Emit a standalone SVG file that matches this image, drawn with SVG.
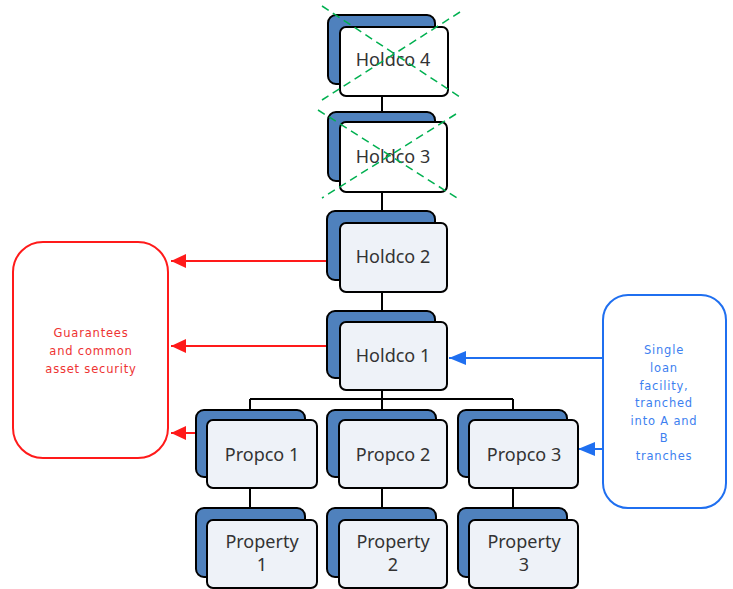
<svg xmlns="http://www.w3.org/2000/svg" width="733" height="589" viewBox="0 0 733 589">
<defs>
<style>
.back{fill:#4f81bd;stroke:#000;stroke-width:2}
.front{fill:#eef2f8;stroke:#000;stroke-width:2}
.front.w{fill:#fff}
.lbl{font-family:"Noto Sans","Open Sans",sans-serif;font-size:18px;fill:#333;text-anchor:middle}
.conn{stroke:#000;stroke-width:2;fill:none}
.red{stroke:#ff1a1a;stroke-width:2;fill:none}
.blue{stroke:#1f6ff0;stroke-width:2;fill:none}
.x{stroke:#00b050;stroke-width:1.5;stroke-dasharray:8 5;fill:none}
.rt{font-family:"DejaVu Sans",Verdana,sans-serif;font-size:11.5px;letter-spacing:0.8px;fill:#ee3333;text-anchor:middle}
.bt{font-family:"DejaVu Sans",Verdana,sans-serif;font-size:11.5px;letter-spacing:0.8px;fill:#3d7ff0;text-anchor:middle}
</style>
<marker id="ar" markerWidth="16" markerHeight="14" refX="15" refY="7" orient="auto" markerUnits="userSpaceOnUse">
<path d="M0,0 L15,7 L0,14 Z" fill="#ff1a1a"/>
</marker>
<marker id="ab" markerWidth="18" markerHeight="14" refX="17" refY="7" orient="auto" markerUnits="userSpaceOnUse">
<path d="M0,0 L17,7 L0,14 Z" fill="#1f6ff0"/>
</marker>
</defs>
<rect width="733" height="589" fill="#fff"/>

<g id="connectors">
<path class="conn" d="M382,96 V112 M382,192 V211 M382,292 V311 M382,390 V399 M250,399 H513 M250,399 V410 M382,399 V410 M513,399 V410 M250,488 V508 M382,488 V508 M513,488 V508"/>
<line class="red" x1="327" y1="261" x2="171" y2="261" marker-end="url(#ar)"/>
<line class="red" x1="327" y1="346" x2="171" y2="346" marker-end="url(#ar)"/>
<line class="red" x1="196" y1="433" x2="171" y2="433" marker-end="url(#ar)"/>
<line class="blue" x1="603" y1="358" x2="449" y2="358" marker-end="url(#ab)"/>
<line class="blue" x1="603" y1="449" x2="578" y2="449" marker-end="url(#ab)"/>
</g>

<g id="holdco4">
<rect class="back" x="328" y="15" width="107" height="69" rx="8"/>
<rect class="front w" x="340" y="27" width="108" height="69" rx="6"/>
<text class="lbl" x="393" y="66">Holdco 4</text>
<path class="x" d="M322,6 L460,97 M460,12 L322,100"/>
</g>

<g id="holdco3">
<rect class="back" x="328" y="112" width="107" height="69" rx="8"/>
<rect class="front w" x="340" y="122" width="107" height="70" rx="6"/>
<text class="lbl" x="393" y="163">Holdco 3</text>
<path class="x" d="M318,110 L457,198 M456,114 L322,198"/>
</g>

<g id="holdco2">
<rect class="back" x="327" y="211" width="108" height="69" rx="8"/>
<rect class="front" x="340" y="223" width="107" height="69" rx="6"/>
<text class="lbl" x="393" y="263">Holdco 2</text>
</g>

<g id="holdco1">
<rect class="back" x="327" y="311" width="108" height="67" rx="8"/>
<rect class="front" x="340" y="322" width="107" height="68" rx="6"/>
<text class="lbl" x="393" y="362">Holdco 1</text>
</g>

<g id="propco1">
<rect class="back" x="196" y="410" width="109" height="67" rx="8"/>
<rect class="front" x="207" y="420" width="110" height="68" rx="6"/>
<text class="lbl" x="262" y="461">Propco 1</text>
</g>
<g id="propco2">
<rect class="back" x="327" y="410" width="109" height="67" rx="8"/>
<rect class="front" x="339" y="420" width="108" height="68" rx="6"/>
<text class="lbl" x="393" y="461">Propco 2</text>
</g>
<g id="propco3">
<rect class="back" x="458" y="410" width="109" height="67" rx="8"/>
<rect class="front" x="469" y="420" width="109" height="68" rx="6"/>
<text class="lbl" x="524" y="461">Propco 3</text>
</g>

<g id="property1">
<rect class="back" x="196" y="508" width="109" height="69" rx="8"/>
<rect class="front" x="207" y="520" width="110" height="68" rx="6"/>
<text class="lbl" x="262" y="548">Property</text>
<text class="lbl" x="262" y="571">1</text>
</g>
<g id="property2">
<rect class="back" x="327" y="508" width="109" height="69" rx="8"/>
<rect class="front" x="339" y="520" width="108" height="68" rx="6"/>
<text class="lbl" x="393" y="548">Property</text>
<text class="lbl" x="393" y="571">2</text>
</g>
<g id="property3">
<rect class="back" x="458" y="508" width="109" height="69" rx="8"/>
<rect class="front" x="469" y="520" width="109" height="68" rx="6"/>
<text class="lbl" x="524" y="548">Property</text>
<text class="lbl" x="524" y="571">3</text>
</g>

<g id="guarantees">
<rect class="red" x="13" y="242" width="155" height="216" rx="30"/>
<text class="rt" x="91" y="337">Guarantees</text>
<text class="rt" x="91" y="355">and common</text>
<text class="rt" x="91" y="373">asset security</text>
</g>

<g id="loan">
<rect class="blue" x="603" y="295" width="123" height="213" rx="25"/>
<text class="bt" x="664" y="354">Single</text>
<text class="bt" x="664" y="372">loan</text>
<text class="bt" x="664" y="390">facility,</text>
<text class="bt" x="664" y="407">tranched</text>
<text class="bt" x="664" y="425">into A and</text>
<text class="bt" x="664" y="442">B</text>
<text class="bt" x="664" y="460">tranches</text>
</g>
</svg>
